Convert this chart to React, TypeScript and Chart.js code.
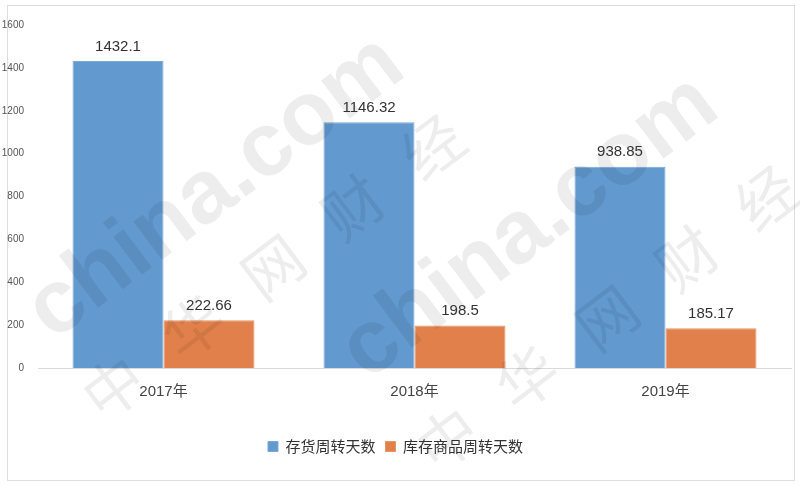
import React, { useEffect, useRef } from "react";
import { Chart, registerables } from "chart.js";

Chart.register(...registerables);

const categories = ["2017年", "2018年", "2019年"];
const inventoryDays = [1432.1, 1146.32, 938.85];
const goodsDays = [222.66, 198.5, 185.17];
const seriesNames = ["存货周转天数", "库存商品周转天数"];
const yTicks = [0, 200, 400, 600, 800, 1000, 1200, 1400, 1600];

const LATIN = "'Liberation Sans', Arial, 'Noto Sans CJK SC', sans-serif";
const CJK = "'Noto Sans CJK SC', 'Liberation Sans', sans-serif";

const framePlugin = {
  id: "frame",
  beforeDraw(chart: any) {
    const ctx = chart.ctx;
    ctx.save();
    ctx.fillStyle = "#ffffff";
    ctx.fillRect(0, 0, chart.width, chart.height);
    ctx.strokeStyle = "#dedede";
    ctx.lineWidth = 1;
    ctx.strokeRect(7.5, 5.5, 787, 475);
    ctx.restore();
  },
};

const labelPlugin = {
  id: "valueLabels",
  afterDatasetsDraw(chart: any) {
    const ctx = chart.ctx;
    ctx.save();
    ctx.font = `15px ${LATIN}`;
    ctx.fillStyle = "#333333";
    ctx.textAlign = "center";
    ctx.textBaseline = "bottom";
    chart.data.datasets.forEach((ds: any, i: number) => {
      const meta = chart.getDatasetMeta(i);
      meta.data.forEach((bar: any, j: number) => {
        ctx.fillText(String(ds.data[j]), bar.x, bar.y - 7);
      });
    });
    ctx.restore();
  },
};

const watermarkPlugin = {
  id: "watermark",
  afterDatasetsDraw(chart: any) {
    const ctx = chart.ctx;
    const ang = -0.645;
    ctx.save();
    ctx.fillStyle = "rgba(0,0,0,0.07)";
    ctx.textAlign = "center";
    ctx.textBaseline = "middle";
    const logos = [
      { x: 216, y: 188 },
      { x: 530, y: 228 },
    ];
    logos.forEach((m) => {
      ctx.save();
      ctx.translate(m.x, m.y);
      ctx.rotate(ang);
      ctx.font = `bold 90px ${LATIN}`;
      ctx.fillText("china.com", 0, 0);
      ctx.restore();
    });
    const chars = ["中", "华", "网", "财", "经"];
    const centers = [
      { x: 273, y: 267 },
      { x: 607, y: 318 },
    ];
    centers.forEach((c) => {
      chars.forEach((ch, k) => {
        const d = (k - 2) * 100;
        ctx.save();
        ctx.translate(c.x + d * Math.cos(ang), c.y + d * Math.sin(ang));
        ctx.rotate(ang);
        ctx.font = `60px ${CJK}`;
        ctx.fillText(ch, 0, 0);
        ctx.restore();
      });
    });
    ctx.restore();
  },
};

export default function App() {
  const ref = useRef<HTMLCanvasElement | null>(null);
  useEffect(() => {
    if (!ref.current) return;
    const chart = new Chart(ref.current, {
      type: "bar",
      data: {
        labels: categories,
        datasets: [
          {
            label: seriesNames[0],
            data: inventoryDays,
            backgroundColor: "#6299CF",
            borderColor: "#7aa9d8",
            borderWidth: 1,
            categoryPercentage: 0.725,
            barPercentage: 1,
          },
          {
            label: seriesNames[1],
            data: goodsDays,
            backgroundColor: "#E1804A",
            borderColor: "#e89464",
            borderWidth: 1,
            categoryPercentage: 0.725,
            barPercentage: 1,
          },
        ],
      },
      options: {
        animation: false,
        responsive: true,
        maintainAspectRatio: false,
        layout: { padding: { top: 25, right: 9, left: 0, bottom: 22 } },
        plugins: {
          legend: {
            position: "bottom",
            labels: {
              boxWidth: 10,
              boxHeight: 10,
              color: "#333333",
              font: { size: 15, family: CJK },
              padding: 10,
            },
          },
          tooltip: { enabled: false },
        },
        scales: {
          x: {
            grid: { display: false },
            border: { display: true, color: "#d9d9d9" },
            ticks: {
              color: "#444444",
              font: { size: 15, family: LATIN },
              padding: 7,
            },
            afterFit(scale: any) {
              scale.height = 61;
            },
          },
          y: {
            min: 0,
            max: 1600,
            grid: { display: false },
            border: { display: false },
            afterBuildTicks(scale: any) {
              scale.ticks = yTicks.map((v) => ({ value: v }));
            },
            ticks: {
              color: "#555555",
              font: { size: 10, family: LATIN },
              padding: 6,
              callback: (v: any) => String(v),
            },
            afterFit(scale: any) {
              scale.width = 38;
            },
          },
        },
      },
      plugins: [framePlugin, watermarkPlugin, labelPlugin],
    } as any);
    return () => chart.destroy();
  }, []);
  return (
    <div style={{ position: "absolute", left: 0, top: 0, width: 800, height: 486 }}>
      <canvas ref={ref} />
    </div>
  );
}
